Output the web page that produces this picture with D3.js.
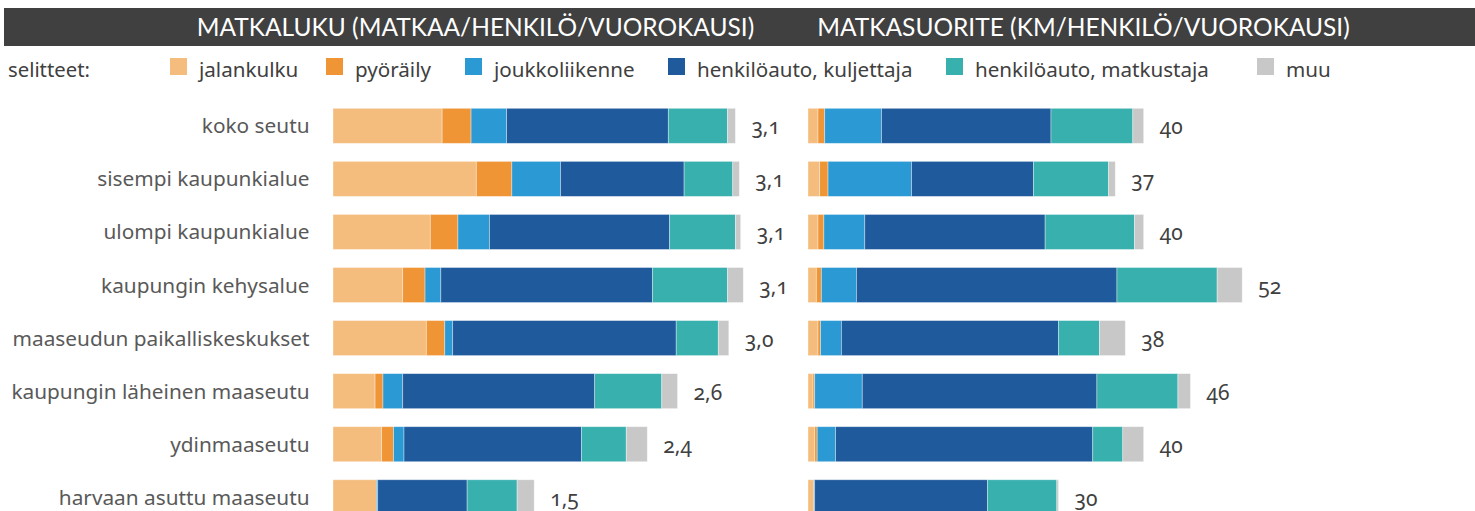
<!DOCTYPE html>
<html>
<head>
<meta charset="utf-8">
<script src="https://cdn.jsdelivr.net/npm/d3@7/dist/d3.min.js"></script>
<style>
  html, body { margin: 0; padding: 0; background: #fff; }
  svg { display: block; }
  text { font-family: "Noto Sans", "Open Sans", sans-serif; }
  .title { font-family: Lato, "Noto Sans", sans-serif; }
  .num { font-variant-numeric: oldstyle-nums; }
</style>
</head>
<body>
<svg id="chart" width="1475" height="511"></svg>
<script>
// Alueluokat
const categories = [
  "koko seutu",
  "sisempi kaupunkialue",
  "ulompi kaupunkialue",
  "kaupungin kehysalue",
  "maaseudun paikalliskeskukset",
  "kaupungin läheinen maaseutu",
  "ydinmaaseutu",
  "harvaan asuttu maaseutu"
];

// Kulkutavat
const modes = ["jalankulku", "pyöräily", "joukkoliikenne", "henkilöauto, kuljettaja", "henkilöauto, matkustaja", "muu"];
const modeColors = ["#F4BD7D", "#EF9536", "#2B99D4", "#1F5A9C", "#38B0AE", "#C8C8C9"];

// Matkaluku (matkaa/henkilö/vuorokausi), kulkutavoittain
const tripsWalk      = [0.83, 1.09, 0.74, 0.53, 0.71, 0.32, 0.37, 0.33];
const tripsBike      = [0.22, 0.27, 0.21, 0.17, 0.14, 0.06, 0.09, 0.00];
const tripsTransit   = [0.27, 0.37, 0.24, 0.12, 0.06, 0.15, 0.08, 0.01];
const tripsDriver    = [1.23, 0.94, 1.37, 1.61, 1.70, 1.46, 1.35, 0.68];
const tripsPassenger = [0.45, 0.37, 0.50, 0.57, 0.32, 0.51, 0.34, 0.38];
const tripsOther     = [0.06, 0.05, 0.04, 0.12, 0.08, 0.12, 0.16, 0.13];

// Matkasuorite (km/henkilö/vuorokausi), kulkutavoittain
const kmWalk      = [1.2, 1.4, 1.2, 1.0, 1.2, 0.6, 0.8, 0.7];
const kmBike      = [0.8, 1.0, 0.7, 0.6, 0.3, 0.2, 0.3, 0.0];
const kmTransit   = [6.8, 10.0, 4.9, 4.2, 2.5, 5.7, 2.2, 0.1];
const kmDriver    = [20.3, 14.6, 21.6, 31.2, 26.0, 28.1, 30.8, 20.7];
const kmPassenger = [9.8, 9.0, 10.7, 12.0, 4.9, 9.7, 3.6, 8.3];
const kmOther     = [1.3, 0.8, 1.1, 3.0, 3.1, 1.5, 2.5, 0.2];

const titles = ["MATKALUKU (MATKAA/HENKILÖ/VUOROKAUSI)", "MATKASUORITE (KM/HENKILÖ/VUOROKAUSI)"];
const legendLabel = "selitteet:";

function buildRows(series) {
  return categories.map((c, i) => {
    const row = { category: c };
    modes.forEach((m, j) => { row[m] = series[j][i]; });
    row.total = d3.sum(series, s => s[i]);
    return row;
  });
}

const tripRows = buildRows([tripsWalk, tripsBike, tripsTransit, tripsDriver, tripsPassenger, tripsOther]);
const kmRows = buildRows([kmWalk, kmBike, kmTransit, kmDriver, kmPassenger, kmOther]);

const svg = d3.select("#chart");
const color = d3.scaleOrdinal().domain(modes).range(modeColors);

// Otsikkopalkki
svg.append("rect").attr("x", 4).attr("y", 8).attr("width", 1471).attr("height", 38).attr("fill", "#404040");
const titleCenters = [475.5, 1083.5];
titles.forEach((t, i) => {
  svg.append("text")
    .attr("class", "title")
    .attr("x", titleCenters[i]).attr("y", 36)
    .attr("text-anchor", "middle")
    .attr("fill", "#ffffff")
    .attr("font-size", 24.5)
    .text(t);
});

// Selitteet
svg.append("text").attr("x", 8).attr("y", 77).attr("font-size", 20.3).attr("fill", "#404040").text(legendLabel);
const legendX = [170, 326, 465, 668, 946, 1257];
const legend = svg.append("g").selectAll("g").data(modes).join("g")
  .attr("transform", (d, i) => `translate(${legendX[i]},58)`);
legend.append("rect").attr("width", 17).attr("height", 17).attr("fill", d => color(d));
legend.append("text").attr("x", 29).attr("y", 18.5).attr("font-size", 20.6).attr("fill", "#404040").text(d => d);

// Pystyakseli
const y = d3.scaleBand().domain(categories).range([99.3, 523.8]).paddingInner(0.34).paddingOuter(0.17);

svg.append("g").selectAll("text").data(categories).join("text")
  .attr("x", 309.5)
  .attr("y", d => y(d) + y.bandwidth() / 2 + 7.5)
  .attr("text-anchor", "end")
  .attr("font-size", 20.8)
  .attr("fill", "#595959")
  .text(d => d);

const stack = d3.stack().keys(modes);

function panel(rows, x, fmt) {
  const g = svg.append("g");
  const layers = stack(rows);
  g.selectAll("g.layer").data(layers).join("g")
    .attr("class", "layer")
    .attr("fill", d => color(d.key))
    .selectAll("rect").data(d => d).join("rect")
      .attr("x", d => x(d[0]))
      .attr("y", d => y(d.data.category))
      .attr("width", d => Math.max(0, x(d[1]) - x(d[0])))
      .attr("height", y.bandwidth())
      .attr("stroke", "rgba(255,255,255,0.45)")
      .attr("stroke-width", 0.8);
  g.selectAll("text.total").data(rows).join("text")
    .attr("class", "total num")
    .attr("x", d => x(d.total) + 16)
    .attr("y", d => y(d.category) + y.bandwidth() / 2 + 8.5)
    .attr("font-size", 21)
    .attr("fill", "#404040")
    .text(d => fmt(d.total));
}

const xTrips = d3.scaleLinear().domain([0, 3.2]).range([333, 333 + 3.2 * 131.5]);
const xKm = d3.scaleLinear().domain([0, 52]).range([808, 808 + 52 * 8.35]);

panel(tripRows, xTrips, v => d3.format(".1f")(v).replace(".", ","));
panel(kmRows, xKm, v => d3.format(".0f")(v));
</script>
</body>
</html>
